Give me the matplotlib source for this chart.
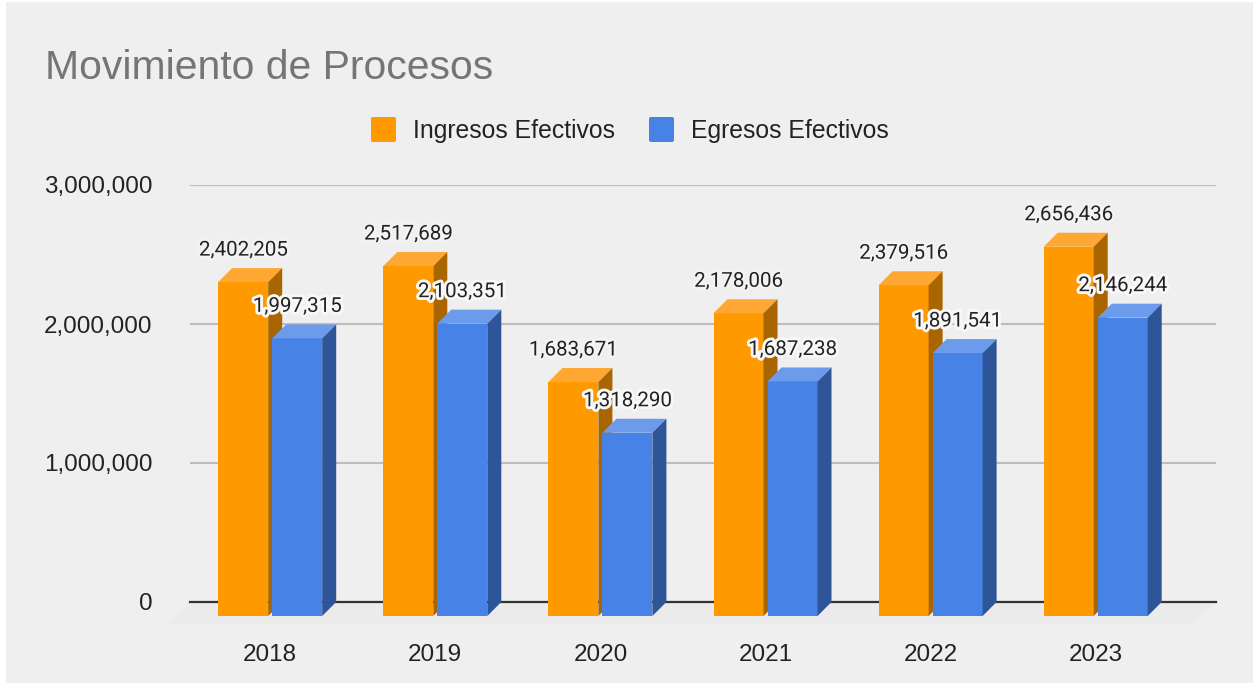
"""Grouped pseudo-3D column chart of case movement per year."""

import matplotlib
matplotlib.use("Agg")
import matplotlib.patheffects as pe
import matplotlib.pyplot as plt
from matplotlib.patches import FancyBboxPatch, Polygon, Rectangle
from matplotlib.transforms import Affine2D

YEARS = ["2018", "2019", "2020", "2021", "2022", "2023"]
INGRESOS = [2402205, 2517689, 1683671, 2178006, 2379516, 2656436]
EGRESOS = [1997315, 2103351, 1318290, 1687238, 1891541, 2146244]
Y_TICKS = [0, 1000000, 2000000, 3000000]

TITLE = "Movimiento de Procesos"
LEGEND_IN = "Ingresos Efectivos"
LEGEND_EG = "Egresos Efectivos"

W, H = 1253, 684
PLOT_L, PLOT_R, PLOT_T, PLOT_B = 190, 1216, 185, 602
FIRST_X, STEP_X = 270.2, 165.1  # pixel centre of first group, group spacing
BAR_W, BAR_GAP, DEPTH = 50, 4, 14

SANS = "Liberation Sans"
TEXT = "#222222"
PANEL = "#EFEFEF"
ORANGE = ("#FF9900", "#FFA733", "#A86500")  # front, top, side
BLUE = ("#4782E6", "#6C9BEC", "#2D5597")

plt.rcParams["font.family"] = SANS

fig = plt.figure(figsize=(W / 100, H / 100), dpi=100, facecolor="white")
px = Affine2D().scale(1, -1).translate(0, H)  # y-down pixel coordinates

fig.add_artist(Rectangle((6, 2), W - 6, H - 3, transform=px, fc=PANEL, ec="none", zorder=-5))

ax = fig.add_axes([PLOT_L / W, 1 - PLOT_B / H, (PLOT_R - PLOT_L) / W, (PLOT_B - PLOT_T) / H])
ax.patch.set_visible(False)
ax.set_xlim((PLOT_L - FIRST_X) / STEP_X, (PLOT_R - FIRST_X) / STEP_X)
ax.set_ylim(0, 3000000)

# one pixel expressed in data units
dx = 1 / STEP_X
dy = 3000000 / (PLOT_B - PLOT_T)

# floor plate below the zero line
x_lo, x_hi = ax.get_xlim()
floor_h = 22.5 * dy
ax.add_patch(Polygon(
    [(x_lo, 0), (x_hi, 0), (x_hi - 24 * dx, -floor_h), (x_lo - 22 * dx, -floor_h)],
    fc="#EBEBEB", ec="none", clip_on=False, zorder=1,
))

ax.set_yticks(Y_TICKS)
ax.set_yticklabels([f"{t:,}" for t in Y_TICKS], fontsize=17.5, color=TEXT)
ax.tick_params(axis="y", length=0, pad=27)
ax.set_xticks(range(len(YEARS)))
ax.set_xticklabels(YEARS, fontsize=17.5, color=TEXT)
ax.tick_params(axis="x", length=0, pad=30)
for side in ax.spines.values():
    side.set_visible(False)
ax.grid(axis="y", color="#BDBDBD", lw=1.5, zorder=2)
ax.set_axisbelow(True)
ax.axhline(0, color="#333333", lw=1.6, zorder=2.5, clip_on=False)


def draw_series(values, offset, colors, zorder):
    """Front faces as bars, with top and side faces stacked on them."""
    front, top, side = colors
    w = BAR_W * dx
    d_x, d_y = DEPTH * dx, DEPTH * dy
    for i, v in enumerate(values):
        left = i + offset * dx - w / 2
        right = left + w
        ax.bar(left, v, width=w, bottom=-d_y, align="edge", color=front,
               clip_on=False, zorder=zorder)
        ax.add_patch(Polygon(
            [(left, v - d_y), (right, v - d_y), (right + d_x, v), (left + d_x, v)],
            fc=top, ec="none", clip_on=False, zorder=zorder,
        ))
        ax.add_patch(Polygon(
            [(right, -d_y), (right + d_x, 0), (right + d_x, v), (right, v - d_y)],
            fc=side, ec="none", clip_on=False, zorder=zorder,
        ))


def draw_labels(values, offset, halo, halo_width):
    for i, v in enumerate(values):
        ax.annotate(
            f"{v:,}", (i + offset * dx, v), xytext=(0, 18 * 0.72),
            textcoords="offset points", ha="center", va="center",
            family="Roboto", fontsize=14.8, color=TEXT, zorder=10,
            annotation_clip=False,
            path_effects=[pe.withStroke(linewidth=halo_width, foreground=halo)],
        )


shift = (BAR_W + BAR_GAP) / 2
draw_series(INGRESOS, -shift, ORANGE, 3)
draw_series(EGRESOS, shift, BLUE, 4)
draw_labels(INGRESOS, -shift, "#F3F3F3", 3.5)
draw_labels(EGRESOS, shift, "#F8F8F8", 4.2)

fig.text(45 / W, 1 - 68 / H, TITLE, fontsize=29.4, color="#757575", va="center", ha="left")

# legend swatches and labels
for x0, color, label, tx in [(371, ORANGE[0], LEGEND_IN, 413), (649, BLUE[0], LEGEND_EG, 691)]:
    fig.add_artist(FancyBboxPatch(
        (x0 + 2, 119), 21, 21, boxstyle="round,pad=2,rounding_size=2",
        transform=px, fc=color, ec="none",
    ))
    fig.text(tx / W, 1 - 131 / H, label, fontsize=17.8, color=TEXT, va="center", ha="left")

fig.savefig("out.png", dpi=100, facecolor=fig.get_facecolor())
